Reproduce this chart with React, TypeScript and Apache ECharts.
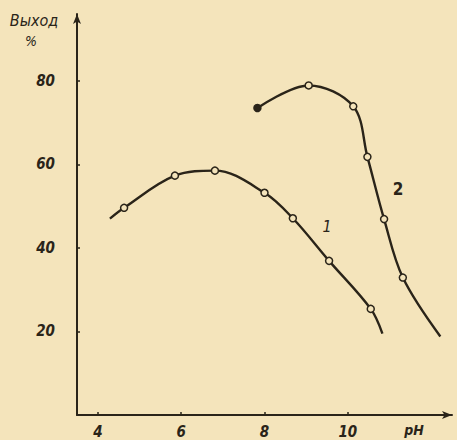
import React, { useEffect, useRef } from "react";
import * as echarts from "echarts";

const xTicks = [4, 6, 8, 10];
const yTicks = [20, 40, 60, 80];
// [pH, yield %, marker]
const curve1: [number, number, string][] = [
  [4.29, 47.0, "none"],
  [4.63, 49.6, "o"],
  [5.85, 57.3, "o"],
  [6.81, 58.5, "o"],
  [8.0, 53.2, "o"],
  [8.68, 47.1, "o"],
  [9.55, 36.9, "o"],
  [10.55, 25.4, "o"],
  [10.83, 19.5, "none"],
];
const curve2: [number, number, string][] = [
  [7.83, 73.5, "filled"],
  [9.06, 78.9, "o"],
  [10.13, 73.9, "o"],
  [10.47, 61.8, "o"],
  [10.87, 46.9, "o"],
  [11.32, 32.9, "o"],
  [12.22, 18.8, "none"],
];
const curveLabels = ["1", "2"];

const INK = "#2a2419";
const PAPER = "#f4e4bb";
const FONT = "'DejaVu Sans Condensed', 'DejaVu Sans', sans-serif";

function toData(c: [number, number, string][]) {
  return c.map(([x, y, m]) => {
    if (m === "none") return { value: [x, y], symbol: "none" };
    if (m === "filled")
      return { value: [x, y], symbolSize: 7, itemStyle: { color: INK, borderColor: INK } };
    return { value: [x, y] };
  });
}

export default function App() {
  const ref = useRef<HTMLDivElement>(null);
  useEffect(() => {
    const chart = echarts.init(ref.current!, null, { renderer: "svg" });
    const seriesBase = {
      type: "line",
      smooth: 0.35,
      symbol: "circle",
      symbolSize: 7,
      showAllSymbol: true,
      lineStyle: { color: INK, width: 2.4 },
      itemStyle: { color: PAPER, borderColor: INK, borderWidth: 1.5 },
      emphasis: { disabled: true },
      z: 3,
    };
    chart.setOption({
      animation: false,
      backgroundColor: PAPER,
      grid: { left: 77, right: 5, top: 14, bottom: 25 },
      xAxis: {
        type: "value",
        min: 3.5,
        max: 12.5,
        splitLine: { show: false },
        axisLine: {
          lineStyle: { color: INK, width: 2 },
          symbol: ["none", "arrow"],
          symbolSize: [6, 10],
        },
        axisTick: { show: true, inside: true, length: 3, customValues: xTicks, lineStyle: { color: INK, width: 1.5 } },
        axisLabel: {
          customValues: xTicks,
          color: INK,
          fontFamily: FONT,
          fontStyle: "italic",
          fontWeight: "bold",
          fontSize: 15,
          margin: 9,
        },
      },
      yAxis: {
        type: "value",
        min: 0,
        max: 96,
        interval: 20,
        splitLine: { show: false },
        axisLine: {
          lineStyle: { color: INK, width: 2 },
          symbol: ["none", "arrow"],
          symbolSize: [6, 10],
        },
        axisTick: { show: true, inside: true, length: 3, customValues: yTicks, lineStyle: { color: INK, width: 1.5 } },
        axisLabel: {
          customValues: yTicks,
          color: INK,
          fontFamily: FONT,
          fontStyle: "italic",
          fontWeight: "bold",
          fontSize: 15,
          margin: 22,
        },
      },
      series: [
        { ...seriesBase, name: "1", data: toData(curve1) },
        { ...seriesBase, name: "2", data: toData(curve2) },
      ],
      graphic: [
        {
          type: "text",
          x: 34,
          y: 20,
          style: { text: "Выход", fill: INK, font: `italic 16px ${FONT}`, align: "center", verticalAlign: "middle" },
        },
        {
          type: "text",
          x: 31,
          y: 41,
          style: { text: "%", fill: INK, font: `italic 14px ${FONT}`, align: "center", verticalAlign: "middle" },
        },
        {
          type: "text",
          x: 414,
          y: 430,
          style: { text: "pH", fill: INK, font: `italic bold 14px ${FONT}`, align: "center", verticalAlign: "middle" },
        },
        {
          type: "text",
          x: 327,
          y: 226,
          style: { text: curveLabels[0], fill: INK, font: `italic 16px ${FONT}`, align: "center", verticalAlign: "middle" },
        },
        {
          type: "text",
          x: 398,
          y: 189,
          style: { text: curveLabels[1], fill: INK, font: `bold 17px ${FONT}`, align: "center", verticalAlign: "middle" },
        },
      ],
    });
    return () => chart.dispose();
  }, []);
  return (
    <div
      ref={ref}
      style={{ position: "fixed", left: 0, top: 0, width: 457, height: 440 }}
    />
  );
}
